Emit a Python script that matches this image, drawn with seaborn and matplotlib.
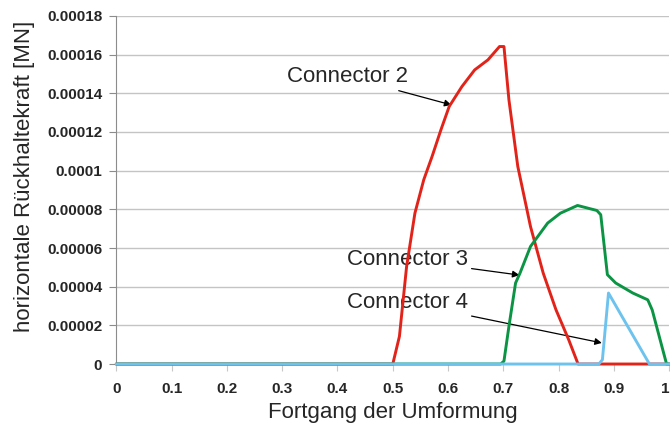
import numpy as np
import pandas as pd
import matplotlib
matplotlib.use("Agg")
import matplotlib.pyplot as plt
import matplotlib.transforms as mtransforms
import seaborn as sns

# Curves: progress of forming (x) vs. horizontal retaining force in MN (y)
c2_x = [0.0, 0.500, 0.512, 0.525, 0.540, 0.556, 0.571, 0.587, 0.602, 0.625, 0.648,
        0.672, 0.693, 0.701, 0.710, 0.726, 0.749, 0.772, 0.795, 0.818, 0.835, 1.0]
c2_y = [0.0, 0.0, 0.0000143, 0.0000505, 0.0000780, 0.0000953, 0.0001073, 0.0001211,
        0.0001332, 0.0001435, 0.0001521, 0.0001573, 0.0001642, 0.0001642, 0.0001366,
        0.0001022, 0.0000711, 0.0000470, 0.0000281, 0.0000126, 0.0, 0.0]

c3_x = [0.0, 0.695, 0.701, 0.710, 0.722, 0.730, 0.749, 0.780, 0.803, 0.834, 0.869,
        0.876, 0.888, 0.903, 0.934, 0.961, 0.969, 0.995, 1.0]
c3_y = [0.0, 0.0, 0.0000015, 0.0000195, 0.0000419, 0.0000470, 0.0000608, 0.0000729,
        0.0000780, 0.0000820, 0.0000794, 0.0000772, 0.0000462, 0.0000419, 0.0000367,
        0.0000332, 0.0000280, 0.0, 0.0]

c4_x = [0.0, 0.8725, 0.879, 0.890, 0.964, 1.0]
c4_y = [0.0, 0.0, 0.0000022, 0.0000367, 0.0, 0.0]

series_names = ["Connector 2", "Connector 3", "Connector 4"]
series_colors = ["#e2231a", "#0b9444", "#6ec3ee"]

x_ticks = [0.0, 0.1, 0.2, 0.3, 0.4, 0.5, 0.6, 0.7, 0.8, 0.9, 1.0]
x_tick_labels = ["0", "0.1", "0.2", "0.3", "0.4", "0.5", "0.6", "0.7", "0.8", "0.9", "1"]
y_ticks = [0.0, 0.00002, 0.00004, 0.00006, 0.00008, 0.0001, 0.00012, 0.00014, 0.00016, 0.00018]
y_tick_labels = ["0", "0.00002", "0.00004", "0.00006", "0.00008", "0.0001",
                 "0.00012", "0.00014", "0.00016", "0.00018"]

frames = []
for name, xs, ys in zip(series_names, [c2_x, c3_x, c4_x], [c2_y, c3_y, c4_y]):
    frames.append(pd.DataFrame({"x": xs, "y": ys, "connector": name, "order": range(len(xs))}))
df = pd.concat(frames, ignore_index=True)

sns.set_style("white")
plt.rcParams["font.family"] = ["Liberation Sans", "DejaVu Sans"]

fig = plt.figure(figsize=(6.7, 4.25), dpi=100)
ax = fig.add_axes([0.1735, 0.1435, 0.8255, 0.8189])

for i, (name, color) in enumerate(zip(series_names, series_colors)):
    sub = df[df["connector"] == name]
    sns.lineplot(data=sub, x="x", y="y", sort=False, estimator=None, color=color,
                 linewidth=2.1, ax=ax, legend=False, solid_joinstyle="round")

# let the curves sit fully on the baseline, later series on top
for i, line in enumerate(ax.lines):
    line.set_clip_on(False)
    line.set_zorder(5 + i)

ax.set_xlim(0, 1)
ax.set_ylim(0, 0.00018)
ax.set_xticks(x_ticks)
ax.set_xticklabels(x_tick_labels, fontsize=11, fontweight="bold")
ax.set_yticks(y_ticks)
ax.set_yticklabels(y_tick_labels, fontsize=11, fontweight="bold")
ax.tick_params(axis="y", direction="out", length=5, width=0.8, color="#8c8c8c",
               left=True, pad=5)
ax.tick_params(axis="x", direction="out", length=5, width=0.8, color="#c8c8c8",
               bottom=True, pad=8)

# keep the last x tick label inside the canvas
last = ax.get_xticklabels()[-1]
last.set_transform(last.get_transform() +
                   mtransforms.ScaledTranslation(-4 / 100, 0, fig.dpi_scale_trans))

ax.yaxis.grid(True, color="#c4c4c4", linewidth=1.0)
ax.xaxis.grid(False)
ax.set_axisbelow(True)

for side in ["top", "right"]:
    ax.spines[side].set_visible(False)
ax.spines["left"].set_color("#8c8c8c")
ax.spines["bottom"].set_color("#c8c8c8")
ax.spines["left"].set_linewidth(0.8)
ax.spines["bottom"].set_linewidth(0.8)
ax.spines["bottom"].set_zorder(1)

ax.set_xlabel("Fortgang der Umformung", fontsize=16, labelpad=4)
ax.set_ylabel("horizontale Rückhaltekraft [MN]", fontsize=16)
ax.yaxis.set_label_coords(-0.147, 0.54)

arrow = dict(arrowstyle="-|>", color="black", lw=0.9, mutation_scale=10,
             shrinkA=0, shrinkB=0)
ax.annotate("Connector 2", xy=(0.606, 0.000134), xytext=(0.528, 0.0001485),
            fontsize=16, ha="right", va="center", arrowprops=arrow)
ax.annotate("Connector 3", xy=(0.729, 0.000046), xytext=(0.6365, 0.0000538),
            fontsize=16, ha="right", va="center", arrowprops=arrow)
ax.annotate("Connector 4", xy=(0.878, 0.0000109), xytext=(0.6365, 0.0000316),
            fontsize=16, ha="right", va="center", arrowprops=arrow)

fig.savefig("out.png", dpi=100)
